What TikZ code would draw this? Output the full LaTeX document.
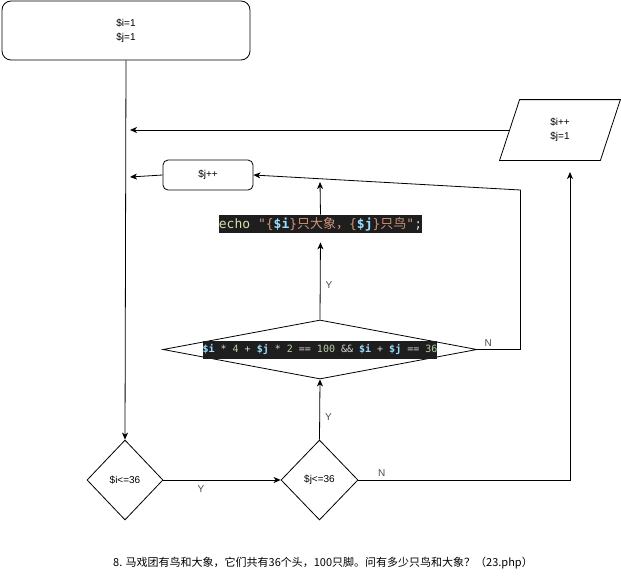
\documentclass[tikz,border=0pt]{standalone}
\usepackage{fontspec}
\setmainfont{Liberation Sans}
\setmonofont{DejaVu Sans Mono}
\newfontfamily\cjk{Noto Sans CJK SC}
\usepackage{tikz}
\usetikzlibrary{arrows.meta,shapes.geometric}
\definecolor{CodeBg}{HTML}{1E1E1E}
\definecolor{CodeYellow}{HTML}{DCDCAA}
\definecolor{CodeOrange}{HTML}{CE9178}
\definecolor{CodeBlue}{HTML}{9CDCFE}
\definecolor{CodeGreen}{HTML}{B5CEA8}
\definecolor{CodeGray}{HTML}{D4D4D4}
\definecolor{LabelGray}{HTML}{4D4D4D}
\newcommand{\phpvar}[1]{\textcolor{CodeBlue}{\bfseries #1}}
\newcommand{\phpstr}[1]{\textcolor{CodeOrange}{#1}}
\newcommand{\phpnum}[1]{\textcolor{CodeGreen}{#1}}
\newcommand{\phpop}[1]{\textcolor{CodeGray}{#1}}

\begin{document}
\begin{tikzpicture}[
  x=1pt,y=-1pt,line width=0.8pt,
  box/.style={draw,rounded corners=9pt,align=center,font=\fontsize{10}{14}\selectfont},
  test/.style={diamond,draw,inner sep=0pt,font=\fontsize{10}{12}\selectfont},
  io/.style={align=center,inner sep=0pt,font=\fontsize{10}{14}\selectfont},
  code/.style={fill=CodeBg,inner sep=0pt,minimum height=18pt,font=\ttfamily},
  lbl/.style={text=LabelGray,font=\fontsize{10}{12}\selectfont,inner sep=1pt},
  arr/.style={-{Stealth[length=7pt,width=6pt,inset=2pt]}}
]
\useasboundingbox (0,0) rectangle (621,581);

% nodes
\node[box,minimum width=248pt,minimum height=59pt] (init) at (126,30.5) {\$i=1\\\$j=1};
\node[test,minimum width=76pt,minimum height=80pt] (itest) at (125,480) {\$i<=36};
\node[test,minimum width=77pt,minimum height=80pt] (jtest) at (319.5,480) {\$j<=36};
\node[test,minimum width=314pt,minimum height=59pt] (check) at (320,349.5) {};
\node[code,font=\ttfamily\fontsize{10}{12}\selectfont] (checktxt) at (check.center)
  {\phpvar{\$i} \phpop{*} \phpnum{4} \phpop{+} \phpvar{\$j} \phpop{*} \phpnum{2} \phpop{==} \phpnum{100} \phpop{\&\&} \phpvar{\$i} \phpop{+} \phpvar{\$j} \phpop{==} \phpnum{36}};
\node[code,font=\ttfamily\fontsize{13}{15}\selectfont] (echo) at (320.5,224)
  {\textcolor{CodeYellow}{echo} \phpstr{"\{}\phpvar{\$i}\phpstr{\}{\cjk 只大象，}\{}\phpvar{\$j}\phpstr{\}{\cjk 只鸟}"}\phpop{;}};
\node[box,rounded corners=5pt,minimum width=90pt,minimum height=30pt] (jinc) at (208,175) {\$j++};
\node[io,minimum width=100pt,minimum height=60pt] (iinc) at (560,130) {\$i++\\\$j=1};
\draw ([xshift=10pt]iinc.north west) -- ([xshift=10pt]iinc.north east)
  -- ([xshift=-10pt]iinc.south east) -- ([xshift=-10pt]iinc.south west) -- cycle;
\node[font=\cjk\fontsize{11}{13}\selectfont] (title) at (323,563)
  {8. 马戏团有鸟和大象，它们共有36个头，100只脚。问有多少只鸟和大象？（23.php）};

\coordinate (iback) at (130,130);
\coordinate (jback) at (130,177);
\coordinate (echoend) at (320,182);
\coordinate (nextend) at (570,172);

% connectors
\draw[arr] (init.south) -- (itest.north);
\draw[arr] (itest.east) -- node[lbl,pos=0.32,below=4pt] {Y} (jtest.west);
\draw[arr] (jtest.north) -- node[lbl,pos=0.38,right=4pt] {Y} (check.south);
\draw[arr,shorten >=9pt] (check.north) -- node[lbl,pos=0.4,right=4pt] {Y} (echo.south);
\draw[arr] (echo.north) -- (echoend);
\draw[arr] (check.east) -- node[lbl,pos=0.25,above=2pt] {N} ++(43,0) -- ++(0,-159.5) -- (jinc.east);
\draw[arr] (jinc.west) -- (jback);
\draw[arr] (iinc.west) -- (iback);
\draw[arr] (jtest.east) -| node[lbl,pos=0.055,above=2pt] {N} (nextend);
\end{tikzpicture}
\end{document}
